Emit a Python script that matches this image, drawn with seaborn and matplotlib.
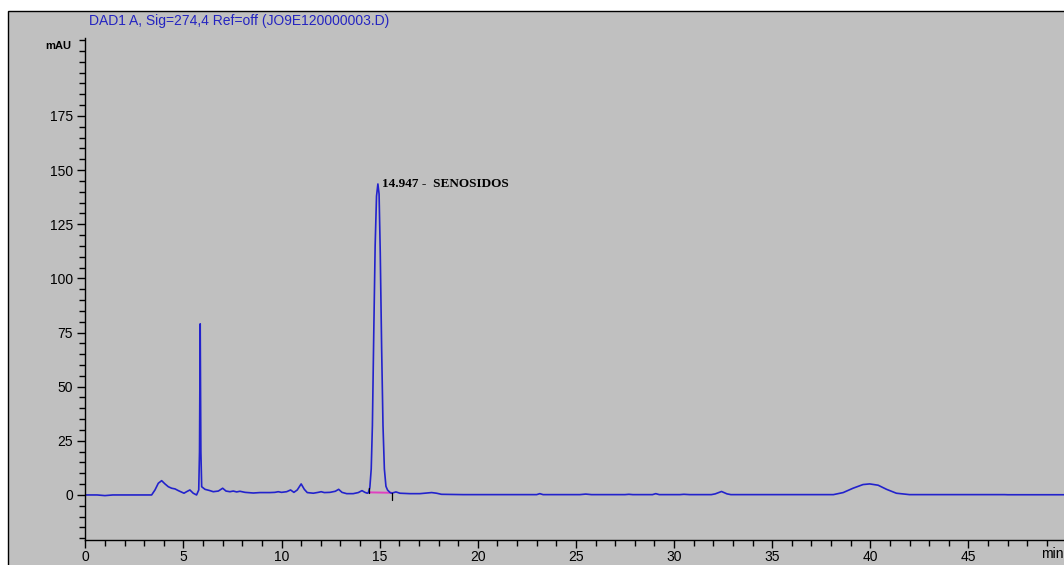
import matplotlib
matplotlib.use("Agg")
import matplotlib.pyplot as plt
import matplotlib.patches as mpatches
from matplotlib.ticker import MultipleLocator
import seaborn as sns
import pandas as pd

# ---- data ----
time_min = [0.0, 0.6, 1.0, 1.4, 3.38, 3.55, 3.72, 3.89, 4.06, 4.23, 4.40, 4.57,
            4.74, 4.86, 5.03, 5.16, 5.33, 5.50, 5.67, 5.78, 5.82, 5.855, 5.89,
            5.93, 6.10, 6.35, 6.52, 6.78, 7.00, 7.17, 7.37, 7.54, 7.71, 7.88,
            8.14, 8.56, 8.90, 9.41, 9.66, 9.83, 10.0, 10.26, 10.46, 10.63,
            10.80, 11.0, 11.16, 11.31, 11.62, 11.87, 12.02, 12.18, 12.47,
            12.74, 12.91, 13.08, 13.32, 13.65, 13.91, 14.10, 14.25, 14.37,
            14.42, 14.50, 14.57, 14.63, 14.70, 14.77, 14.84, 14.91, 14.97,
            15.03, 15.10, 15.17, 15.24, 15.32, 15.40, 15.52, 15.61, 15.83,
            16.03, 16.54, 17.05, 17.65, 17.9, 18.15, 19.26, 20.96, 23.0, 23.16,
            23.33, 25.2, 25.5, 25.8, 27.5, 27.7, 27.9, 28.9, 29.07, 29.25,
            30.3, 30.5, 30.8, 31.9, 32.1, 32.42, 32.7, 32.9, 38.12, 38.62,
            39.12, 39.63, 39.97, 40.40, 40.83, 41.33, 42.0, 46.85, 47.0, 49.9]
signal_mau = [0.0, 0.0, -0.3, 0.0, 0.0, 2.3, 5.4, 6.6, 5.1, 3.8, 3.1, 2.8,
              2.0, 1.5, 0.8, 1.5, 2.3, 0.8, 0.0, 2.3, 20.0, 79.0, 20.0,
              3.8, 2.6, 2.0, 1.5, 1.8, 3.1, 1.8, 1.5, 1.8, 1.4, 1.7,
              1.2, 0.9, 1.1, 1.1, 1.2, 1.5, 1.2, 1.5, 2.3, 1.2,
              2.3, 5.1, 2.6, 1.1, 0.8, 1.2, 1.5, 1.1, 1.2,
              1.7, 2.6, 1.2, 0.6, 0.6, 1.1, 2.0, 1.2, 0.8,
              1.0, 3.5, 12.0, 32.0, 75.0, 115.0, 138.0, 143.6, 139.0,
              112.0, 68.0, 32.0, 12.0, 4.0, 2.3, 1.2, 0.8, 1.4,
              0.8, 0.6, 0.6, 1.1, 0.8, 0.3, 0.15, 0.15, 0.15, 0.6,
              0.15, 0.15, 0.4, 0.15, 0.15, 0.3, 0.15, 0.15, 0.6, 0.15,
              0.15, 0.3, 0.15, 0.15, 0.5, 1.6, 0.5, 0.15, 0.15, 1.1,
              3.1, 4.8, 5.1, 4.5, 2.6, 0.8, 0.15, 0.15, 0.1, 0.1]

peak_label = "14.947 -  SENOSIDOS"
peak_label_pos = (15.10, 143.6)
integ_start = (14.45, 1.2)
integ_end = (15.62, 1.0)

x_major = [0, 5, 10, 15, 20, 25, 30, 35, 40, 45]
y_major = [0, 25, 50, 75, 100, 125, 150, 175]

title = "DAD1 A, Sig=274,4 Ref=off (JO9E120000003.D)"

# ---- figure ----
sns.set_style("ticks")
plt.rcParams["font.family"] = ["Liberation Sans", "DejaVu Sans"]

W, H = 1064, 565
fig = plt.figure(figsize=(W / 100, H / 100), dpi=100, facecolor="white")

# grey panel with black frame on left/top
panel = mpatches.Rectangle((8 / W, -0.05), 1.2, 1 - 11 / H + 0.05,
                           transform=fig.transFigure, facecolor="#c0c0c0",
                           edgecolor="black", linewidth=1.0, zorder=-10)
fig.patches.append(panel)

ax = fig.add_axes([85.3 / W, 1 - 540 / H, (1066.5 - 85.3) / W, (540 - 38) / H])
ax.set_facecolor("#c0c0c0")
ax.set_zorder(1)

df = pd.DataFrame({"time": time_min, "mAU": signal_mau})
sns.lineplot(data=df, x="time", y="mAU", sort=False, estimator=None,
             color="#2222cc", linewidth=1.2, ax=ax)

# integration baseline and tick marks
ax.plot([integ_start[0], integ_end[0]], [integ_start[1], integ_end[1]],
        color="#e040c0", linewidth=1.4, zorder=1)
ax.plot([integ_start[0], integ_start[0]], [integ_start[1] - 0.4, integ_start[1] + 2.2],
        color="black", linewidth=0.9)
ax.plot([integ_end[0], integ_end[0]], [integ_end[1] - 0.2, integ_end[1] - 3.3],
        color="black", linewidth=0.9)

ax.text(peak_label_pos[0], peak_label_pos[1], peak_label, family="Liberation Serif",
        fontweight="bold", fontsize=9.5, ha="left", va="center", color="black")

ax.set_xlim(0, 50)
ax.set_ylim(-20.8, 211)
ax.set_xticks(x_major)
ax.set_xticklabels([str(v) for v in x_major])
ax.set_yticks(y_major)
ax.set_yticklabels([str(v) for v in y_major])
ax.xaxis.set_minor_locator(MultipleLocator(1))
ax.yaxis.set_minor_locator(MultipleLocator(5))
ax.tick_params(axis="both", which="major", length=6, width=1, color="black",
               labelsize=10, labelcolor="black", direction="out")
ax.tick_params(axis="x", which="major", pad=1.5)
ax.tick_params(axis="y", which="major", pad=3)
ax.tick_params(axis="both", which="minor", length=4, width=1, color="black",
               direction="out")
ax.set_xlabel("")
ax.set_ylabel("")
for s in ["top", "right"]:
    ax.spines[s].set_visible(False)
for s in ["left", "bottom"]:
    ax.spines[s].set_color("black")
    ax.spines[s].set_linewidth(1.0)

ax.text(49.3, -15.5, "min", transform=ax.get_xaxis_transform(), ha="center",
        va="top", fontsize=10, color="black")
ax.texts[-1].set_transform(
    matplotlib.transforms.blended_transform_factory(ax.transData, fig.transFigure))
ax.texts[-1].set_position((49.3, 1 - 547.5 / H))
fig.text(58 / W, 1 - 46 / H, "mAU", ha="center", va="center", fontsize=8,
         fontweight="bold", color="black")
fig.text(89 / W, 1 - 21 / H, title, ha="left", va="center", fontsize=10,
         color="#2424c0")

fig.savefig("out.png", dpi=100, facecolor="white")
